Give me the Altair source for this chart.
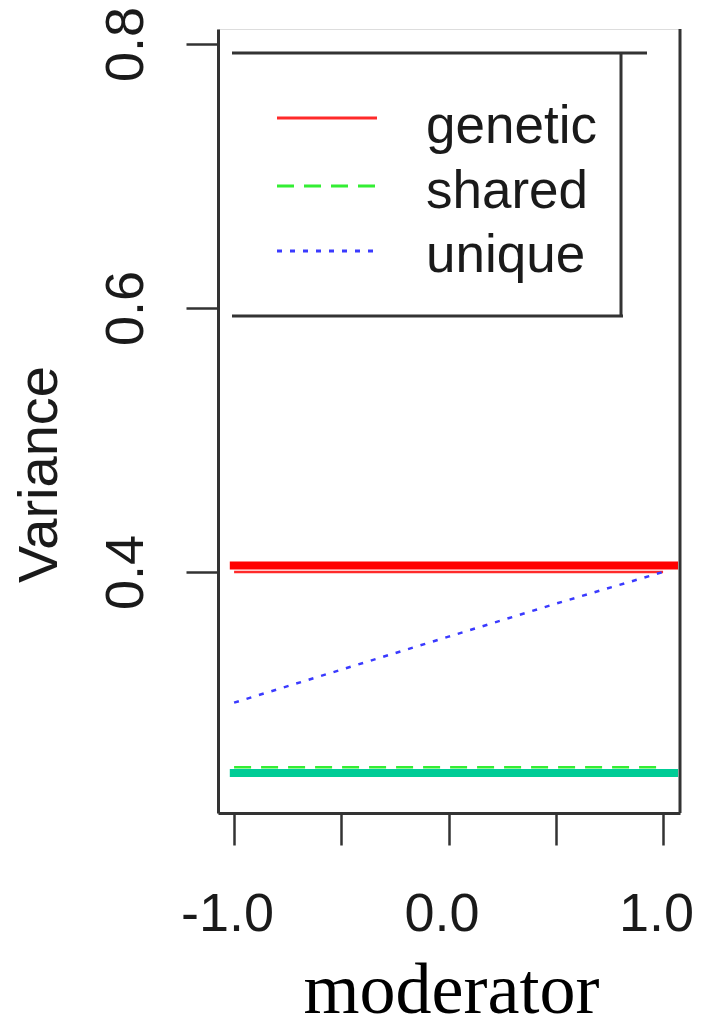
import altair as alt
import pandas as pd

# ---- data ----
series_names = ["genetic", "shared", "unique"]
series_colors = ["#ff2a2a", "#33ee33", "#3a3aff"]
series_dashes = [[1, 0], [17, 10], [5, 8]]

genetic_x = [-1.0, 1.0]
genetic_y = [0.400, 0.400]
shared_x = [-1.0, 1.0]
shared_y = [0.252, 0.252]
unique_x = [-1.0, -0.5, 0.0, 0.5, 1.0]
unique_y = [0.301, 0.326, 0.351, 0.376, 0.400]

# thick highlight bands drawn over the plot
band_names = ["red band", "teal band"]
band_colors = ["#ff0000", "#00cc96"]
band_x = [-1.02, 1.07]
band_y = [0.405, 0.2477]

x_ticks = [-1.0, -0.5, 0.0, 0.5, 1.0]
y_ticks = [0.4, 0.6, 0.8]
x_domain = [-1.075, 1.079]
y_domain = [0.2174, 0.8114]

FONT = "Liberation Sans"
TXT = "#1a1a1a"
AX = "#333333"

rows = []
for name, xs, ys in [("genetic", genetic_x, genetic_y),
                     ("shared", shared_x, shared_y),
                     ("unique", unique_x, unique_y)]:
    for xv, yv in zip(xs, ys):
        rows.append({"series": name, "x": xv, "y": yv})
lines_df = pd.DataFrame(rows)

brows = []
for name, yv in zip(band_names, band_y):
    for xv in band_x:
        brows.append({"band": name, "x": xv, "y": yv})
bands_df = pd.DataFrame(brows)

xscale = alt.Scale(domain=x_domain, nice=False, zero=False)
yscale = alt.Scale(domain=y_domain, nice=False, zero=False)

xaxis = alt.Axis(
    values=x_ticks, grid=False, tickSize=32, tickWidth=2.5, tickColor=AX,
    domainColor=AX, domainWidth=3,
    labelExpr="abs(datum.value) == 0.5 ? '' : (datum.value < 0 ? '-' : '') + format(abs(datum.value), '.1f')",
    labelFont=FONT, labelFontSize=54, labelColor=TXT, labelPadding=85,
    labelOffset=-7, labelBaseline="alphabetic", labelFlush=False,
    title="moderator", titleFont="Liberation Serif", titleFontSize=72,
    titleFontWeight="normal", titleColor="#000000", titleX=233, titleY=199,
    titleBaseline="alphabetic", titleAlign="center")
yaxis = alt.Axis(
    values=y_ticks, grid=False, tickSize=32, tickWidth=2.5, tickColor=AX,
    domainColor=AX, domainWidth=3, format=".1f",
    labelFont=FONT, labelFontSize=54, labelColor=TXT, labelAngle=270,
    labelAlign="center", labelBaseline="alphabetic", labelPadding=44,
    labelFlush=False,
    title="Variance", titleFont=FONT, titleFontSize=56, titleColor=TXT,
    titleFontWeight="normal", titleAngle=270, titleX=-162, titleY=445,
    titleAlign="center", titleBaseline="alphabetic")

lines = alt.Chart(lines_df).mark_line(strokeWidth=2.5).encode(
    x=alt.X("x:Q", scale=xscale, axis=xaxis),
    y=alt.Y("y:Q", scale=yscale, axis=yaxis),
    color=alt.Color("series:N", scale=alt.Scale(domain=series_names, range=series_colors), legend=None),
    strokeDash=alt.StrokeDash("series:N", scale=alt.Scale(domain=series_names, range=series_dashes), legend=None),
    detail="series:N",
)

bands = alt.Chart(bands_df).mark_line(strokeWidth=8).encode(
    x=alt.X("x:Q", scale=xscale, axis=xaxis),
    y=alt.Y("y:Q", scale=yscale, axis=yaxis),
    stroke=alt.Stroke("band:N", scale=alt.Scale(domain=band_names, range=band_colors), legend=None),
    detail="band:N",
)

# right border of the plot box
right_border = alt.Chart(pd.DataFrame({"a": [0]})).mark_rule(color=AX, strokeWidth=3).encode(
    x=alt.value(462), y=alt.value(0), y2=alt.value(784))

# hand-drawn legend frame (no left side)
frame_layers = [
    alt.Chart(pd.DataFrame({"a": [0]})).mark_rule(color=AX, strokeWidth=3).encode(
        x=alt.value(14), x2=alt.value(429), y=alt.value(24)),
    alt.Chart(pd.DataFrame({"a": [0]})).mark_rule(color=AX, strokeWidth=3).encode(
        x=alt.value(403), y=alt.value(24), y2=alt.value(288)),
    alt.Chart(pd.DataFrame({"a": [0]})).mark_rule(color=AX, strokeWidth=3).encode(
        x=alt.value(14), x2=alt.value(405), y=alt.value(287)),
]

legend_layers = []
legend_row_y = [89, 157, 222]
legend_text_y = [114, 179, 243]
for i, name in enumerate(series_names):
    d = pd.DataFrame({"series": [name]})
    legend_layers.append(
        alt.Chart(d).mark_rule(color=series_colors[i], strokeWidth=3,
                               strokeDash=series_dashes[i]).encode(
            x=alt.value(59), x2=alt.value(159), y=alt.value(legend_row_y[i])))
    legend_layers.append(
        alt.Chart(d).mark_text(font=FONT, fontSize=53, color=TXT, align="left",
                               baseline="alphabetic").encode(
            text="series:N", x=alt.value(208), y=alt.value(legend_text_y[i])))

chart = alt.layer(lines, bands, right_border, *frame_layers, *legend_layers).resolve_scale(
    color="independent", stroke="independent", strokeDash="independent"
).properties(
    width=462, height=784,
    autosize=alt.AutoSizeParams(type="none"),
    padding={"left": 210, "top": 21, "right": 20, "bottom": 203},
).configure_view(strokeWidth=0).configure(background="white")

chart.save("out.html", embed_options={"renderer": "svg", "actions": False})
